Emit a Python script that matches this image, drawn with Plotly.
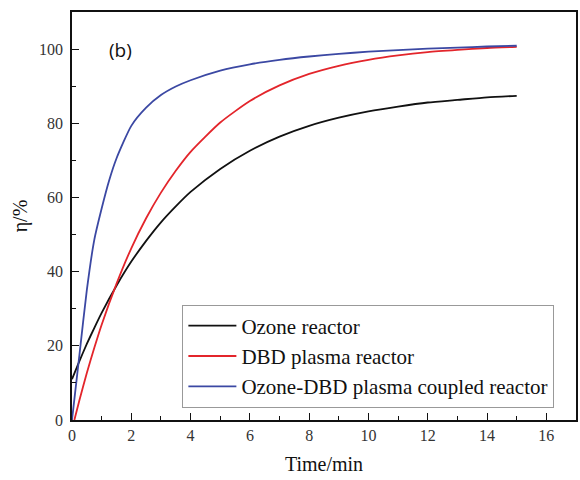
import plotly.graph_objects as go

# Time (min)
t_ozone = [0, 0.25, 0.5, 0.75, 1, 1.5, 2, 2.5, 3, 3.5, 4, 5, 6, 7, 8, 9, 10, 11, 12, 13, 14, 15]
eta_ozone = [11, 15.9, 20.5, 24.8, 28.9, 36.2, 42.7, 48.3, 53.3, 57.6, 61.5, 67.7, 72.6, 76.4, 79.3, 81.5, 83.2, 84.5, 85.6, 86.3, 87.0, 87.4]

t_dbd = [0.08, 0.25, 0.5, 0.75, 1, 1.5, 2, 2.5, 3, 3.5, 4, 5, 6, 7, 8, 9, 10, 11, 12, 13, 14, 15]
eta_dbd = [0, 5.3, 12.7, 19.4, 25.7, 36.7, 46.3, 54.4, 61.3, 67.2, 72.3, 80.2, 86.0, 90.2, 93.3, 95.5, 97.1, 98.3, 99.2, 99.8, 100.3, 100.6]

t_coupled = [0, 0.1, 0.25, 0.5, 0.75, 1, 1.25, 1.5, 2, 2.5, 3, 3.5, 4, 5, 6, 7, 8, 9, 10, 11, 12, 13, 14, 15]
eta_coupled = [0, 7, 17.5, 35, 48.5, 57, 64.5, 70.5, 79.3, 84.2, 87.6, 89.9, 91.6, 94.2, 95.9, 97.1, 98, 98.7, 99.3, 99.7, 100.1, 100.4, 100.7, 100.9]

series_names = ["Ozone reactor", "DBD plasma reactor", "Ozone-DBD plasma coupled reactor"]
series_colors = ["#111111", "#E3252B", "#3B48A3"]

x_ticks = [0, 2, 4, 6, 8, 10, 12, 14, 16]
y_ticks = [0, 20, 40, 60, 80, 100]

serif = "Times New Roman, serif"
tick_serif = "Liberation Serif, Times New Roman, serif"

fig = go.Figure()
for xs, ys, name, color in zip([t_ozone, t_dbd, t_coupled],
                               [eta_ozone, eta_dbd, eta_coupled],
                               series_names, series_colors):
    fig.add_trace(go.Scatter(x=xs, y=ys, mode="lines", name=name,
                             line=dict(color=color, width=1.8, shape="spline", smoothing=0.6)))

fig.add_annotation(x=1.63, y=99.7, xref="x", yref="y", text="(b)", showarrow=False,
                   font=dict(family="Open Sans", size=19, color="#111111"))

fig.update_layout(
    width=580, height=480,
    margin=dict(l=72, r=2, t=12, b=60),
    font=dict(family=serif, color="#111111"),
    plot_bgcolor="white", paper_bgcolor="white",
    showlegend=True,
    xaxis=dict(range=[0, 17], tickmode="array", tickvals=x_ticks,
               showline=True, linecolor="#111111", linewidth=1.5, mirror=True,
               ticks="inside", ticklen=7, tickwidth=1.3, tickcolor="#111111",
               showgrid=False, zeroline=False,
               tickfont=dict(family=tick_serif, size=16, color="#333333", weight=400),
               minor=dict(dtick=1, tick0=0, ticks="inside", ticklen=4, tickcolor="#111111", tickwidth=1.2),
               title=dict(text="Time/min", font=dict(family=serif, size=20, color="#111111"), standoff=14)),
    yaxis=dict(range=[0, 110], tickmode="array", tickvals=y_ticks, ticklabelstandoff=4,
               showline=True, linecolor="#111111", linewidth=1.5, mirror=True,
               ticks="inside", ticklen=7, tickwidth=1.3, tickcolor="#111111",
               showgrid=False, zeroline=False,
               tickfont=dict(family=tick_serif, size=16, color="#333333", weight=400),
               minor=dict(dtick=10, tick0=0, ticks="inside", ticklen=4, tickcolor="#111111", tickwidth=1.2),
               title=dict(text="η/%", font=dict(family=serif, size=20, color="#111111"), standoff=6)),
    legend=dict(x=0.219, y=0.283, xanchor="left", yanchor="top",
                bgcolor="white", bordercolor="#999999", borderwidth=1,
                font=dict(family=serif, size=21, color="#111111"),
                itemwidth=48, tracegroupgap=0),
)

fig.write_html("out.html")
